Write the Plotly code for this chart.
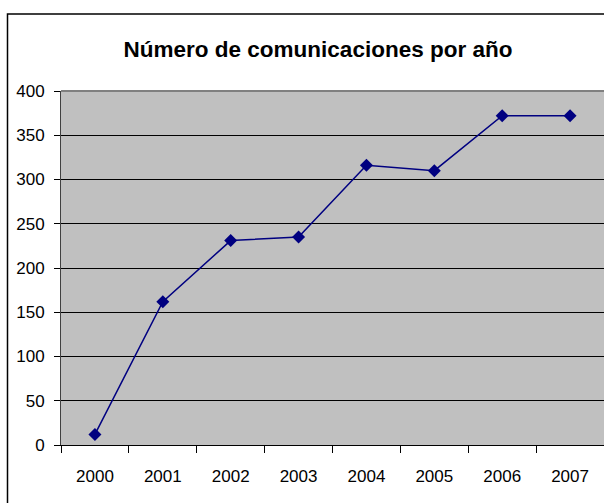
import plotly.graph_objects as go

# Datos
years = ["2000", "2001", "2002", "2003", "2004", "2005", "2006", "2007"]
comunicaciones = [12, 162, 231, 235, 316, 310, 372, 372]

title_text = "Número de comunicaciones por año"
font_family = "Liberation Sans, Arial, sans-serif"

# la figura es más grande que la ventana (604x503): el borde derecho e
# inferior del gráfico original quedan fuera de la vista
W, H = 640, 540
L, R, T, B = 61, 36, 91, 95
pw, ph = W - L - R, H - T - B

fig = go.Figure()
fig.add_trace(
    go.Scatter(
        x=years,
        y=comunicaciones,
        mode="lines+markers",
        line=dict(color="#000080", width=1.5),
        marker=dict(symbol="diamond", size=10, color="#000080"),
        showlegend=False,
    )
)

# borde exterior del gráfico
fig.add_shape(
    type="rect", xref="paper", yref="paper",
    x0=(7.5 - L) / pw, x1=(W - 10 - L) / pw,
    y0=-(B - 20) / ph, y1=(ph + T - 14) / ph,
    line=dict(color="#000000", width=1.5), layer="below",
)
# borde superior del área de trazado
fig.add_shape(
    type="line", xref="paper", yref="paper",
    x0=0, x1=1, y0=1, y1=1,
    line=dict(color="#808080", width=2),
)

fig.update_layout(
    width=W,
    height=H,
    paper_bgcolor="#FFFFFF",
    plot_bgcolor="#C0C0C0",
    font=dict(family=font_family, size=17, color="#000000"),
    margin=dict(l=L, r=R, t=T, b=B, pad=0),
    title=dict(
        text=f"<b>{title_text}</b>",
        x=318 / W, xanchor="center", xref="container",
        y=1 - 49 / H, yanchor="middle", yref="container",
        font=dict(family=font_family, size=22.5, color="#000000"),
    ),
    xaxis=dict(
        type="category",
        tickson="boundaries",
        ticks="outside",
        ticklen=7,
        tickcolor="#000000",
        ticklabelstandoff=16,
        showgrid=False,
        showline=True,
        linecolor="#000000",
        linewidth=1,
        range=[-0.5, 7.5],
        fixedrange=True,
    ),
    yaxis=dict(
        range=[0, 400],
        dtick=50,
        ticks="outside",
        ticklen=6,
        tickcolor="#000000",
        ticklabelstandoff=6,
        showgrid=True,
        gridcolor="#000000",
        gridwidth=1,
        showline=True,
        linecolor="#404040",
        linewidth=1,
        zeroline=False,
        fixedrange=True,
    ),
)

# sin margen en body para que la figura empiece en (0, 0)
fig.write_html(
    "out.html",
    config={"displayModeBar": False},
    post_script="document.body.style.margin='0';document.body.style.overflow='hidden';",
)
